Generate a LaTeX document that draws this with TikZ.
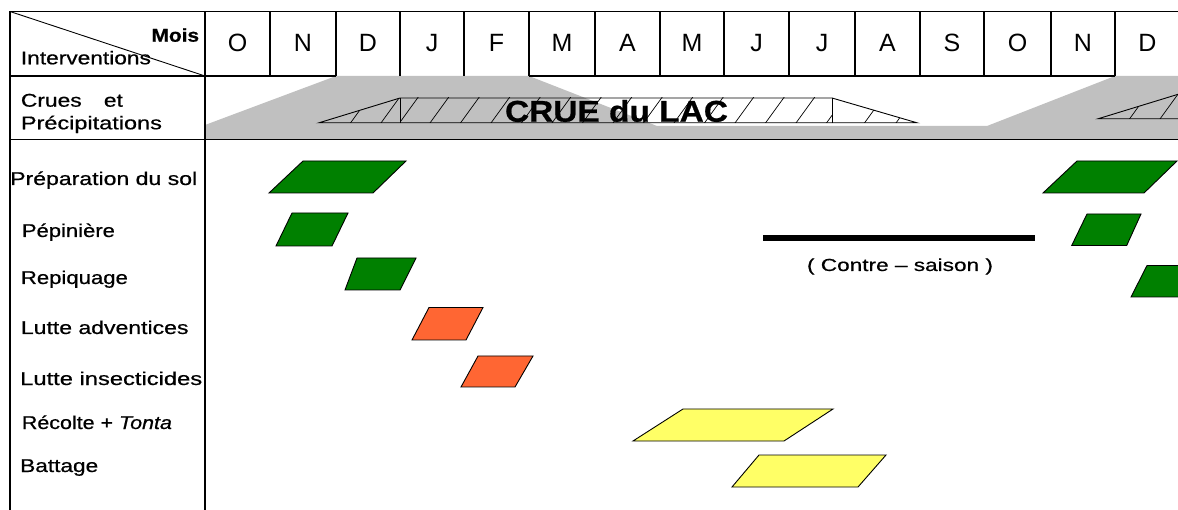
\documentclass[tikz,border=0pt]{standalone}
\usepackage{fontspec}
\setmainfont{Liberation Sans}
\newfontfamily\heavy{Liberation Sans}[FakeBold=0.6]
\newcommand{\fw}[2]{\resizebox{#1}{\height}{#2}}
\definecolor{vert}{RGB}{0,128,0}
\definecolor{orangec}{RGB}{255,102,51}
\definecolor{jaune}{RGB}{255,255,102}
\definecolor{gris}{RGB}{192,192,192}
\tikzset{
  lab/.style={anchor=base west,inner sep=0pt,font=\heavy\fontsize{18.5}{20}\selectfont},
  mon/.style={anchor=base,inner sep=0pt,font=\fontsize{25}{28}\selectfont},
  gridline/.style={line width=1.1pt},
  para/.style={draw=black,line width=0.9pt,line join=miter},
  hatch/.style={line width=0.7pt},
  crueline/.style={line width=0.9pt},
  crue/.pic={
    \begin{scope}
      \clip (319,122.8) -- (400,98) -- (400,122.8) -- cycle;
      \foreach \x in {351,381.5} \draw[hatch] (\x-8,133.3) -- (\x+27,85);
    \end{scope}
    \begin{scope}
      \clip (400,98) rectangle (832,122.8);
      \foreach \i in {0,...,14} \draw[hatch] ({400+30.5*\i-8},133.3) -- ({400+30.5*\i+27},85);
    \end{scope}
    \begin{scope}
      \clip (832,98) -- (917,122.8) -- (832,122.8) -- cycle;
      \foreach \x in {865,896.5} \draw[hatch] (\x-8,133.3) -- (\x+27,85);
    \end{scope}
    \draw[crueline] (319,122.8) -- (400,98) -- (832,98) -- (917,122.8) -- cycle;
    \draw[crueline] (400,98) -- (400,122.8);
    \draw[crueline] (832,98) -- (832,122.8);
  }
}
\begin{document}
\begin{tikzpicture}[x=1pt,y=-1pt]
\useasboundingbox (0,0) rectangle (1178,510);

% gray flood area
\fill[gris] (205,139.5) -- (205,125) -- (336,76) -- (529,76) -- (657,126)
  -- (987,126) -- (1115,76) -- (1178,76) -- (1178,139.5) -- cycle;

% hatched crue shapes
\begin{scope}
  \clip (0,0) rectangle (1178,510);
  \pic at (0,0) {crue};
  \pic at (779,-4) {crue};
\end{scope}
\node[anchor=base,inner sep=0pt,font=\heavy\fontsize{30}{32}\selectfont\bfseries] (crue) at (616.5,121.7) {\fw{223pt}{CRUE du LAC}};

% table lines
\draw[gridline] (10,11.5) -- (1178,11.5);
\draw[gridline] (10,76) -- (336,76);
\draw[gridline] (529,76) -- (1115,76);
\foreach \x in {270,336,400,464,529,595,660,724,789,855,920,984,1051,1115}
  \draw[gridline] (\x,11.5) -- (\x,76);
\draw[gridline] (10,139.5) -- (1178,139.5);
\draw[gridline] (10,11.5) -- (10,510);
\draw[gridline] (205,11.5) -- (205,510);
\draw[line width=0.9pt] (10,11.5) -- (205,76);

% months
\foreach \m/\c [count=\k] in {O/237.5,N/303,D/368,J/432,F/496.5,M/562,A/627.5,M/692,J/756.5,J/822,A/887.5,S/952,O/1017.5,N/1083,D/1147.5}
  \node[mon] (m\k) at (\c,51.5) {\m};

% left labels
\node[anchor=base east,inner sep=0pt,font=\heavy\fontsize{18.5}{20}\selectfont\bfseries] (mois) at (199.3,41.7) {\fw{47.6pt}{Mois}};
\node[lab] (interv) at (20.7,64.3) {\fw{130pt}{Interventions}};
\node[lab] (crues) at (20.7,106.7) {\fw{102pt}{Crues\hspace{18pt}et}};
\node[lab] (precip) at (20.7,129.3) {\fw{141pt}{Précipitations}};
\node[lab] (prep) at (10,185) {\fw{187pt}{Préparation du sol}};
\node[lab] (pep) at (21.7,237) {\fw{93pt}{Pépinière}};
\node[lab] (repiq) at (20.7,284) {\fw{107pt}{Repiquage}};
\node[lab] (advent) at (20.7,334) {\fw{167.6pt}{Lutte adventices}};
\node[lab] (insect) at (20,385) {\fw{182pt}{Lutte insecticides}};
\node[lab] (recolte) at (21.7,429) {\fw{150pt}{Récolte + \textit{Tonta}}};
\node[lab] (battage) at (20,472) {\fw{78pt}{Battage}};

% contre-saison
\coordinate (b1) at (763,238.5);
\coordinate (b2) at (1035,238.5);
\draw[line width=6pt] (b1) -- (b2);
\node[anchor=base,inner sep=0pt,font=\heavy\fontsize{17.5}{20}\selectfont] (contre) at (900,271) {\fw{186pt}{( Contre – saison )}};

% activity bars
\draw[para,fill=vert] (269,193) -- (373,193) -- (406,161) -- (303,161) -- cycle;
\draw[para,fill=vert] (276,246) -- (332,246) -- (348,213) -- (292,213) -- cycle;
\draw[para,fill=vert] (345,290) -- (400,290) -- (416,258) -- (357,258) -- cycle;
\draw[para,fill=vert] (1043,193) -- (1144,193) -- (1177,161) -- (1077,161) -- cycle;
\draw[para,fill=vert] (1071.7,245.5) -- (1126.7,245.5) -- (1141,214) -- (1087,214) -- cycle;
\draw[para,fill=vert] (1131,297) -- (1190,297) -- (1206,265.5) -- (1147,265.5) -- cycle;
\draw[para,fill=orangec] (412,340) -- (466,340) -- (483,307.5) -- (429,307.5) -- cycle;
\draw[para,fill=orangec] (461,387) -- (515,387) -- (533,356) -- (478,356) -- cycle;
\draw[para,fill=jaune] (633,441) -- (784,441) -- (833,409) -- (683,409) -- cycle;
\draw[para,fill=jaune] (732,487) -- (858,487) -- (886,455) -- (759,455) -- cycle;
\end{tikzpicture}
\end{document}
